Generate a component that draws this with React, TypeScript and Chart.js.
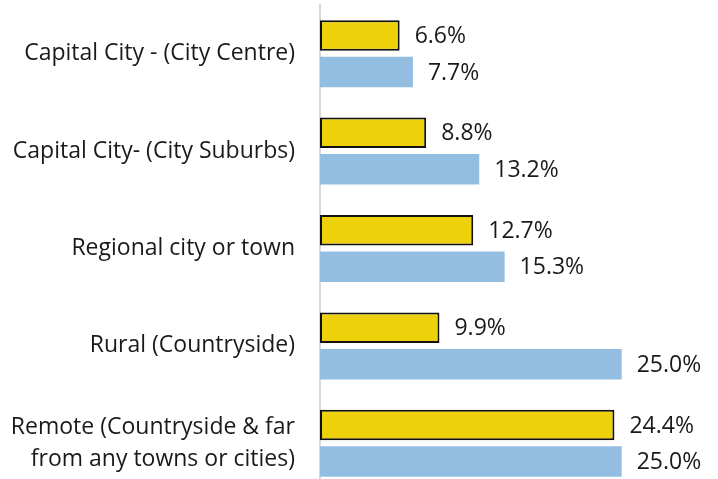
import React, { useEffect, useRef } from "react";
import { Chart, registerables } from "chart.js";

Chart.register(...registerables);

const categories: (string | string[])[] = [
  "Capital City - (City Centre)",
  "Capital City- (City Suburbs)",
  "Regional city or town",
  "Rural (Countryside)",
  ["Remote (Countryside & far", "from any towns or cities)"],
];
const seriesA = [6.6, 8.8, 12.7, 9.9, 24.4];
const seriesB = [7.7, 13.2, 15.3, 25.0, 25.0];

const FONT = "'Open Sans', 'Noto Sans', sans-serif";

const labelPlugin = {
  id: "valueLabels",
  afterDatasetsDraw(chart: any) {
    const ctx = chart.ctx;
    ctx.save();
    ctx.font = `23px ${FONT}`;
    ctx.fillStyle = "#1a1a1a";
    ctx.textAlign = "left";
    ctx.textBaseline = "middle";
    chart.data.datasets.forEach((ds: any, i: number) => {
      const meta = chart.getDatasetMeta(i);
      meta.data.forEach((el: any, j: number) => {
        ctx.fillText(ds.data[j].toFixed(1) + "%", el.x + 15, el.y + 1);
      });
    });
    ctx.restore();
  },
};

export default function App() {
  const ref = useRef<HTMLCanvasElement>(null);
  useEffect(() => {
    if (!ref.current) return;
    const chart = new Chart(ref.current, {
      type: "bar",
      data: {
        labels: categories,
        datasets: [
          {
            label: "A",
            data: seriesA,
            backgroundColor: "#EDD10B",
            borderColor: "#111111",
            borderWidth: 2,
            borderSkipped: false,
            categoryPercentage: 0.75,
            barPercentage: 0.835,
          },
          {
            label: "B",
            data: seriesB,
            backgroundColor: "#93BDE1",
            borderWidth: 0,
            categoryPercentage: 0.75,
            barPercentage: 0.835,
          },
        ],
      },
      options: {
        indexAxis: "y",
        responsive: true,
        maintainAspectRatio: false,
        animation: false,
        layout: { autoPadding: false, padding: { top: 5, bottom: 5, right: 36, left: 0 } },
        plugins: {
          legend: { display: false },
          tooltip: { enabled: false },
        },
        scales: {
          x: {
            min: 0,
            max: 30,
            display: false,
          },
          y: {
            afterFit: (s: any) => {
              s.width = 320;
              s.paddingTop = 0;
              s.paddingBottom = 0;
            },
            grid: { display: false, drawTicks: false },
            border: { display: true, color: "#d9d9d9", width: 2 },
            ticks: {
              padding: 25,
              color: "#1a1a1a",
              font: { family: FONT, size: 23, lineHeight: 1.39 },
            },
          },
        },
      },
      plugins: [labelPlugin],
    });
    return () => chart.destroy();
  }, []);
  return (
    <div
      style={{
        position: "absolute",
        left: 0,
        top: 0,
        width: 718,
        height: 479,
        overflow: "hidden",
        background: "#fff",
      }}
    >
      <div style={{ position: "relative", width: 718, height: 497 }}>
        <canvas ref={ref} />
      </div>
    </div>
  );
}
